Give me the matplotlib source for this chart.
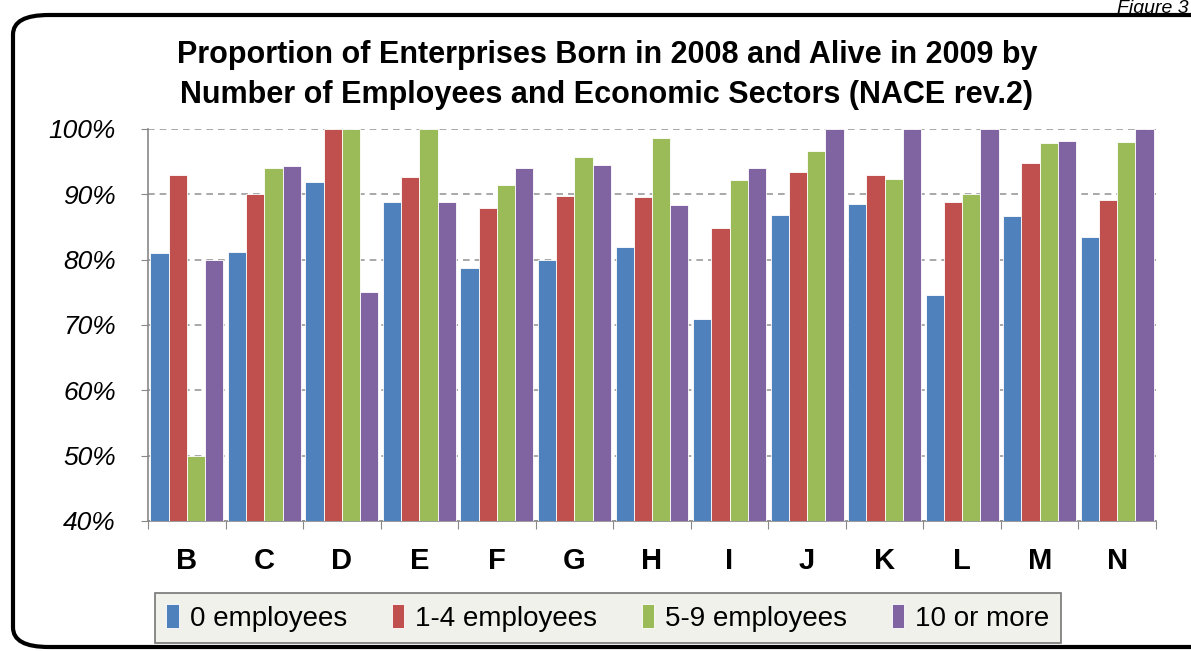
import matplotlib.pyplot as plt
import numpy as np
from matplotlib.patches import FancyBboxPatch
from matplotlib.ticker import FuncFormatter

plt.rcParams['font.family'] = ['Liberation Sans', 'DejaVu Sans']

sectors = ['B', 'C', 'D', 'E', 'F', 'G', 'H', 'I', 'J', 'K', 'L', 'M', 'N']
emp_0 = [81.0, 81.2, 91.9, 88.9, 78.8, 80.0, 82.0, 70.9, 86.9, 88.5, 74.6, 86.7, 83.4]
emp_1_4 = [93.0, 90.0, 100.0, 92.6, 87.9, 89.8, 89.6, 84.8, 93.4, 93.0, 88.9, 94.8, 89.1]
emp_5_9 = [50.0, 94.0, 100.0, 100.0, 91.4, 95.7, 98.6, 92.2, 96.6, 92.4, 90.0, 97.8, 98.0]
emp_10 = [80.0, 94.4, 75.0, 88.9, 94.0, 94.5, 88.3, 94.0, 100.0, 100.0, 100.0, 98.2, 100.0]
labels = ['0 employees', '1-4 employees', '5-9 employees', '10 or more']
colors = ['#4F81BD', '#C0504D', '#9BBB59', '#8064A2']

fig = plt.figure(figsize=(11.91, 6.51), dpi=100)

# rounded frame around the chart
frame = FancyBboxPatch((13/1191, 4/651), 1.05, 632/651,
                       boxstyle='round,pad=0,rounding_size=0.03',
                       transform=fig.transFigure, fill=False,
                       edgecolor='black', linewidth=3, zorder=0)
fig.patches.append(frame)
fig.text(1189/1191, 1.0, 'Figure 3', ha='right', va='top', style='italic', fontsize=14)

ax = fig.add_axes([148/1191, 1 - 521/651, 1008/1191, 392/651])
x = np.arange(len(sectors))
w = 0.235
series = [emp_0, emp_1_4, emp_5_9, emp_10]
for i, (vals, c, lab) in enumerate(zip(series, colors, labels)):
    ax.bar(x + (i - 1.5) * w, np.array(vals) - 40, bottom=40, width=w,
           color=c, edgecolor='white', linewidth=0.6, label=lab, zorder=3)

ax.set_ylim(40, 100)
ax.set_xlim(-0.5, len(sectors) - 0.5)
ax.set_yticks(range(40, 101, 10))
ax.yaxis.set_major_formatter(FuncFormatter(lambda v, p: f'{int(v)}%'))
for t in ax.get_yticklabels():
    t.set_fontstyle('italic')
    t.set_fontsize(19)
ax.yaxis.grid(True, linestyle=(0, (4, 3)), color='#9a9a9a', linewidth=1.2, zorder=0)
ax.tick_params(axis='y', length=5, color='#888888', pad=18)

ax.set_xticks(np.arange(len(sectors) + 1) - 0.5, minor=False)
ax.set_xticklabels([])
ax.set_xticks(x, minor=True)
ax.set_xticklabels(sectors, minor=True, fontsize=21, fontweight='bold')
ax.tick_params(axis='x', which='major', length=6, color='#888888')
ax.tick_params(axis='x', which='minor', length=0, pad=19)

for s in ['top', 'right']:
    ax.spines[s].set_visible(False)
for s in ['left', 'bottom']:
    ax.spines[s].set_color('#888888')
    ax.spines[s].set_linewidth(1.2)

fig.text(607/1191, 1 - 75/651,
         'Proportion of Enterprises Born in 2008 and Alive in 2009 by\n'
         'Number of Employees and Economic Sectors (NACE rev.2)',
         ha='center', va='center', fontsize=22, fontweight='bold', linespacing=1.4)

leg = fig.legend(loc='center', bbox_to_anchor=(608/1191, 1 - 618/651),
                 ncol=4, fontsize=20, frameon=True, fancybox=False,
                 handlelength=0.45, handleheight=0.9, handletextpad=0.4,
                 columnspacing=1.6, borderpad=0.4, borderaxespad=0)
leg.get_frame().set_facecolor('#eeeee6')
leg.get_frame().set_edgecolor('#555555')
leg.get_frame().set_linewidth(1.2)

fig.savefig('out.png', dpi=100)
